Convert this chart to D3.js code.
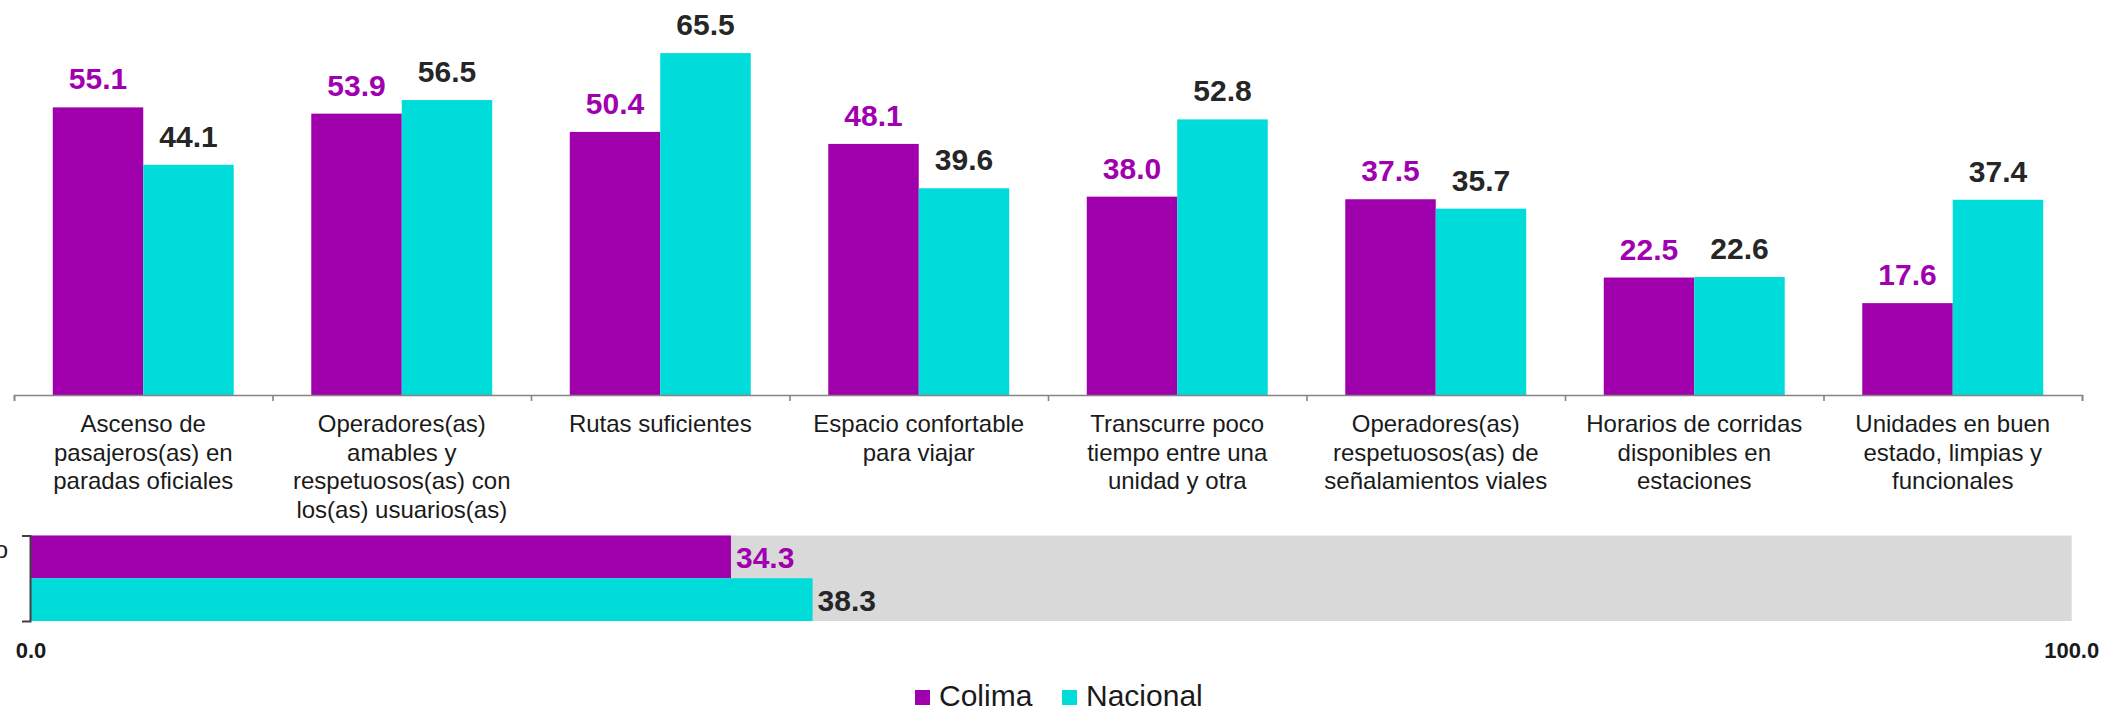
<!DOCTYPE html>
<html>
<head>
<meta charset="utf-8">
<script src="https://cdn.jsdelivr.net/npm/d3@7"></script>
<style>
    body { margin: 0; background: #fff; }
    svg { display: block; font-family: "Liberation Sans", Arial, sans-serif; }
    .catLabel { font-size: 24px; fill: #1a1a1a; }
    .valLabel { font-size: 30px; font-weight: bold; }
</style>
</head>
<body>
<div id="chart"></div>
<script>
// data
const categories = [
    ["Ascenso de", "pasajeros(as) en", "paradas oficiales"],
    ["Operadores(as)", "amables y", "respetuosos(as) con", "los(as) usuarios(as)"],
    ["Rutas suficientes"],
    ["Espacio confortable", "para viajar"],
    ["Transcurre poco", "tiempo entre una", "unidad y otra"],
    ["Operadores(as)", "respetuosos(as) de", "señalamientos viales"],
    ["Horarios de corridas", "disponibles en", "estaciones"],
    ["Unidades en buen", "estado, limpias y", "funcionales"]
];
const colima = [55.1, 53.9, 50.4, 48.1, 38.0, 37.5, 22.5, 17.6];
const nacional = [44.1, 56.5, 65.5, 39.6, 52.8, 35.7, 22.6, 37.4];

const series = ["Colima", "Nacional"];
const promedio = [34.3, 38.3];
const bottomLabel = "Promedio";
const xTicks = [0, 100];

const colors = {Colima: "#a000ac", Nacional: "#00dcd9"};
const labelColors = {Colima: "#a000b0", Nacional: "#262626"};

const W = 2121, H = 711;
const fmt = d3.format(".1f");

let svg = d3.select("#chart").append("svg")
    .attr("width", W)
    .attr("height", H);

/* * * * top grouped bars * * * */
let keys = categories.map((c, i) => i);
let x0 = d3.scaleBand()
    .domain(keys)
    .range([14, 2082])
    .paddingInner(0)
    .paddingOuter(0);
// bars take 70% of each category, 15% empty on each side
let x1 = d3.scaleBand()
    .domain(series)
    .range([0, x0.bandwidth()])
    .paddingInner(0)
    .paddingOuter(0.15 / 0.35);
let y = d3.scaleLinear()
    .domain([0, 70])
    .range([395, 395 - 70 * 5.22]);

let rows = keys.map(i => ({i: i, Colima: colima[i], Nacional: nacional[i]}));

let groups = svg.append("g").selectAll("g")
    .data(rows)
    .join("g")
    .attr("transform", d => `translate(${x0(d.i)},0)`);

groups.selectAll("rect")
    .data(d => series.map(s => ({s: s, v: d[s]})))
    .join("rect")
    .attr("x", d => x1(d.s))
    .attr("width", x1.bandwidth())
    .attr("y", d => y(d.v))
    .attr("height", d => y(0) - y(d.v))
    .attr("fill", d => colors[d.s]);

groups.selectAll("text.valLabel")
    .data(d => series.map(s => ({s: s, v: d[s]})))
    .join("text")
    .attr("class", "valLabel")
    .attr("x", d => x1(d.s) + x1.bandwidth() / 2)
    .attr("y", d => y(d.v) - 18)
    .attr("text-anchor", "middle")
    .attr("fill", d => labelColors[d.s])
    .text(d => fmt(d.v));

// category axis
let xIdx = d3.scaleLinear().domain([0, categories.length]).range(x0.range());
let xAxis = svg.append("g")
    .attr("transform", `translate(0,${y(0)})`)
    .call(d3.axisBottom(xIdx).ticks(categories.length).tickSizeInner(6).tickSizeOuter(6).tickFormat(""));
xAxis.selectAll("path, line").attr("stroke", "#858585").attr("stroke-width", 1.6);

let catText = svg.append("g").selectAll("text")
    .data(categories)
    .join("text")
    .attr("class", "catLabel")
    .attr("text-anchor", "middle")
    .attr("transform", (d, i) => `translate(${x0(i) + x0.bandwidth() / 2},432)`);

catText.selectAll("tspan")
    .data(d => d)
    .join("tspan")
    .attr("x", 0)
    .attr("y", (d, j) => j * 28.5)
    .text(d => d);

/* * * * bottom horizontal bars * * * */
let xb = d3.scaleLinear()
    .domain([0, 100])
    .range([31, 2071.7]);
let yb = d3.scaleBand()
    .domain(series)
    .range([535.5, 621]);

svg.append("rect")
    .attr("x", xb(0))
    .attr("y", yb.range()[0])
    .attr("width", xb(100) - xb(0))
    .attr("height", yb.range()[1] - yb.range()[0])
    .attr("fill", "#d9d9d9");

svg.append("g").selectAll("rect")
    .data(series)
    .join("rect")
    .attr("x", xb(0))
    .attr("y", d => yb(d))
    .attr("width", (d, i) => xb(promedio[i]) - xb(0))
    .attr("height", yb.bandwidth())
    .attr("fill", d => colors[d]);

svg.append("g").selectAll("text")
    .data(series)
    .join("text")
    .attr("class", "valLabel")
    .attr("x", (d, i) => xb(promedio[i]) + 5)
    .attr("y", d => yb(d) + yb.bandwidth() / 2 + 11)
    .attr("fill", d => labelColors[d])
    .text((d, i) => fmt(promedio[i]));

let yAxis = svg.append("g")
    .attr("transform", `translate(${xb(0) - 1},0)`)
    .call(d3.axisLeft(yb).tickValues([]).tickSizeOuter(8));
yAxis.selectAll("path").attr("stroke", "#404040").attr("stroke-width", 2);

// label of the bottom bars, clipped by the left edge as in the original
svg.append("text")
    .attr("class", "catLabel")
    .attr("x", 8)
    .attr("y", 558)
    .attr("text-anchor", "end")
    .text(bottomLabel);

svg.append("g").selectAll("text")
    .data(xTicks)
    .join("text")
    .attr("x", d => xb(d))
    .attr("y", 658)
    .attr("text-anchor", "middle")
    .style("font-size", "22px")
    .style("font-weight", "bold")
    .attr("fill", "#1a1a1a")
    .text(d => fmt(d));

/* * * * legend * * * */
let legendX = [915, 1062];
let legend = svg.append("g").selectAll("g")
    .data(series)
    .join("g")
    .attr("transform", (d, i) => `translate(${legendX[i]},690)`);

legend.append("rect")
    .attr("width", 15)
    .attr("height", 15)
    .attr("fill", d => colors[d]);

legend.append("text")
    .attr("x", 24)
    .attr("y", 16)
    .style("font-size", "30px")
    .attr("fill", "#1a1a1a")
    .text(d => d);
</script>
</body>
</html>
